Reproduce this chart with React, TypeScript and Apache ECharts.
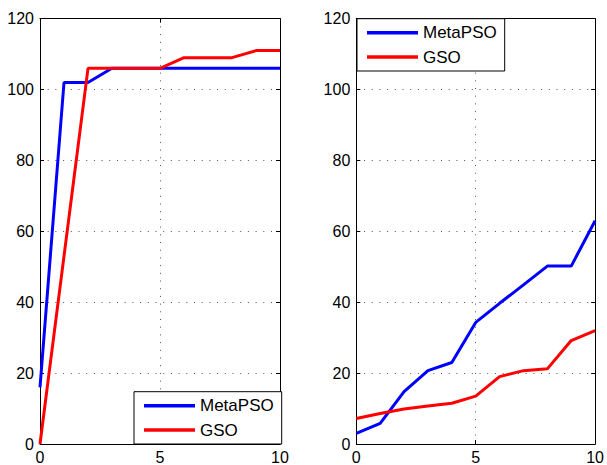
import React, { useEffect, useRef } from "react";
import * as echarts from "echarts";

const xValues = [0, 1, 2, 3, 4, 5, 6, 7, 8, 9, 10];
const seriesNames = ["MetaPSO", "GSO"];
const leftMetaPSO = [16, 102, 102, 106, 106, 106, 106, 106, 106, 106, 106];
const leftGSO = [0, 53, 106, 106, 106, 106, 109, 109, 109, 111, 111];
const rightMetaPSO = [3, 5.8, 14.8, 20.7, 23, 34.3, 39.7, 44.9, 50.2, 50.2, 63];
const rightGSO = [7.2, 8.6, 9.9, 10.7, 11.5, 13.5, 19, 20.7, 21.2, 29.2, 32];

const FONT = "'Liberation Sans', Arial, Helvetica, sans-serif";

export default function App() {
  const ref = useRef<HTMLDivElement>(null);
  useEffect(() => {
    if (!ref.current) return;
    const chart = echarts.init(ref.current, undefined, { renderer: "svg" });
    const pair = (xs: number[], ys: number[]) => xs.map((x, i) => [x, ys[i]]);
    const grids = [
      { left: 40, top: 18.7, width: 240, height: 425.6 },
      { left: 356.3, top: 18.7, width: 239.7, height: 425.6 },
    ];
    const gridLine = { show: true, lineStyle: { color: "#555", type: [1, 6.7], width: 1 } };
    const axisLine = { show: true, onZero: false, lineStyle: { color: "#000", width: 1 } };
    const tick = { show: true, inside: true, length: 4, lineStyle: { color: "#000" } };
    const label = { color: "#000", fontSize: 16, fontFamily: FONT };
    const xAxes: any[] = [];
    const yAxes: any[] = [];
    [0, 1].forEach((g) => {
      xAxes.push({
        type: "value", gridIndex: g, min: 0, max: 10, interval: 5, position: "bottom",
        axisLine, axisTick: tick, axisLabel: { ...label, margin: 5 }, splitLine: gridLine,
      });
      xAxes.push({
        type: "value", gridIndex: g, min: 0, max: 10, interval: 5, position: "top",
        axisLine, axisTick: tick, axisLabel: { show: false }, splitLine: { show: false },
      });
      yAxes.push({
        type: "value", gridIndex: g, min: 0, max: 120, interval: 20, position: "left",
        axisLine, axisTick: tick, axisLabel: { ...label, margin: 6 }, splitLine: gridLine,
      });
      yAxes.push({
        type: "value", gridIndex: g, min: 0, max: 120, interval: 20, position: "right",
        axisLine, axisTick: tick, axisLabel: { show: false }, splitLine: { show: false },
      });
    });
    const line = (name: string, color: string, g: number, ys: number[]) => ({
      type: "line", name, xAxisIndex: g * 2, yAxisIndex: g * 2, data: pair(xValues, ys),
      symbol: "none", lineStyle: { color, width: 3 }, itemStyle: { color }, z: 3,
    });
    const legendBase = {
      orient: "vertical", data: seriesNames, icon: "rect", itemWidth: 51, itemHeight: 3.5,
      itemGap: 4.3, padding: [4, 8, 4, 10], backgroundColor: "#fff", borderColor: "#000",
      borderWidth: 1, borderRadius: 0, selectedMode: false,
      textStyle: { color: "#000", fontSize: 17, fontFamily: FONT, lineHeight: 20 },
    };
    chart.setOption({
      animation: false,
      backgroundColor: "#fff",
      grid: grids,
      xAxis: xAxes,
      yAxis: yAxes,
      legend: [
        { ...legendBase, left: 134, top: 391.7 },
        { ...legendBase, left: 357, top: 18.7 },
      ],
      series: [
        line("MetaPSO", "#0000ff", 0, leftMetaPSO),
        line("GSO", "#ff0000", 0, leftGSO),
        line("MetaPSO", "#0000ff", 1, rightMetaPSO),
        line("GSO", "#ff0000", 1, rightGSO),
      ],
    });
    return () => chart.dispose();
  }, []);
  return (
    <div
      ref={ref}
      style={{ position: "fixed", left: 0, top: 0, width: 607, height: 465 }}
    />
  );
}
